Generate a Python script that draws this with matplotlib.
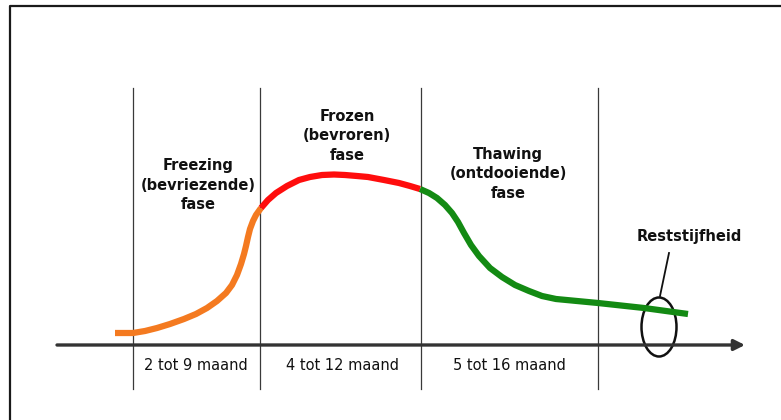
import matplotlib.pyplot as plt
from matplotlib.patches import Ellipse

# Curve (pixel coords, y grows downward)
orange_x = [115, 125, 133, 145, 157, 170, 184, 196, 207, 217, 226, 232, 237,
            241, 244, 246, 248, 250, 253, 256, 261]
orange_y = [333, 333, 333, 331, 328, 324, 319, 314, 308, 301, 293, 285, 275,
            264, 254, 246, 237, 229, 221, 215, 208]
red_x = [261, 268, 276, 287, 299, 310, 322, 334, 345, 357, 368, 384, 399,
         410, 420]
red_y = [208, 200, 193, 186, 180, 177, 175, 174.5, 175, 176, 177, 180, 183,
         186, 189]
green_x = [420, 429, 437, 445, 452, 458, 464, 471, 479, 490, 502, 515, 529,
           542, 556, 577, 598, 621, 644, 666, 688]
green_y = [189, 193, 198, 205, 213, 222, 233, 245, 256, 268, 277, 285, 291,
           296, 299, 301, 303, 305.5, 308, 311, 314]

# Phase boundaries and labels
boundary_x = [133, 260, 421, 598]
phase_names = ['Freezing\n(bevriezende)\nfase',
               'Frozen\n(bevroren)\nfase',
               'Thawing\n(ontdooiende)\nfase']
phase_x = [198, 347, 508]
phase_y = [185, 136, 174]
period_labels = ['2 tot 9 maand', '4 tot 12 maand', '5 tot 16 maand']
period_x = [196, 343, 509]

fig = plt.figure(figsize=(7.81, 4.20), dpi=100)
ax = fig.add_axes([0, 0, 1, 1])
ax.set_xlim(0, 781)
ax.set_ylim(420, 0)
ax.axis('off')

# frame (only top and left edges visible)
ax.plot([10, 10, 781], [420, 6, 6], color='#1a1a1a', lw=1.6)

# vertical phase lines
for bx in boundary_x:
    ax.plot([bx, bx], [88, 389], color='#3a3a3a', lw=0.9)

# time axis with arrow
ax.annotate('', xy=(745, 345), xytext=(57, 345),
            arrowprops=dict(arrowstyle='-|>', lw=2.4, color='#333333',
                            mutation_scale=16, shrinkA=0, shrinkB=0))

# stiffness curve
for xs, ys, col in [(orange_x, orange_y, '#f47a20'),
                    (red_x, red_y, '#ff0d0d'),
                    (green_x, green_y, '#138a13')]:
    ax.plot(xs, ys, color=col, lw=4.5, solid_capstyle='butt',
            solid_joinstyle='round')

# phase titles
for name, x, y in zip(phase_names, phase_x, phase_y):
    ax.text(x, y, name, ha='center', va='center', fontsize=10.5,
            fontweight='bold', color='#111111', linespacing=1.4)

# period labels under axis
for lab, x in zip(period_labels, period_x):
    ax.text(x, 365, lab, ha='center', va='center', fontsize=10.5,
            color='#111111')

# residual stiffness marker
ax.add_patch(Ellipse((659, 327), 35, 59, fill=False, lw=1.8,
                     edgecolor='#111111'))
ax.plot([660, 669], [296, 253], color='#111111', lw=1.3)
ax.text(689, 237, 'Reststijfheid', ha='center', va='center', fontsize=10.5,
        fontweight='bold', color='#111111')

fig.savefig('out.png', dpi=100)
